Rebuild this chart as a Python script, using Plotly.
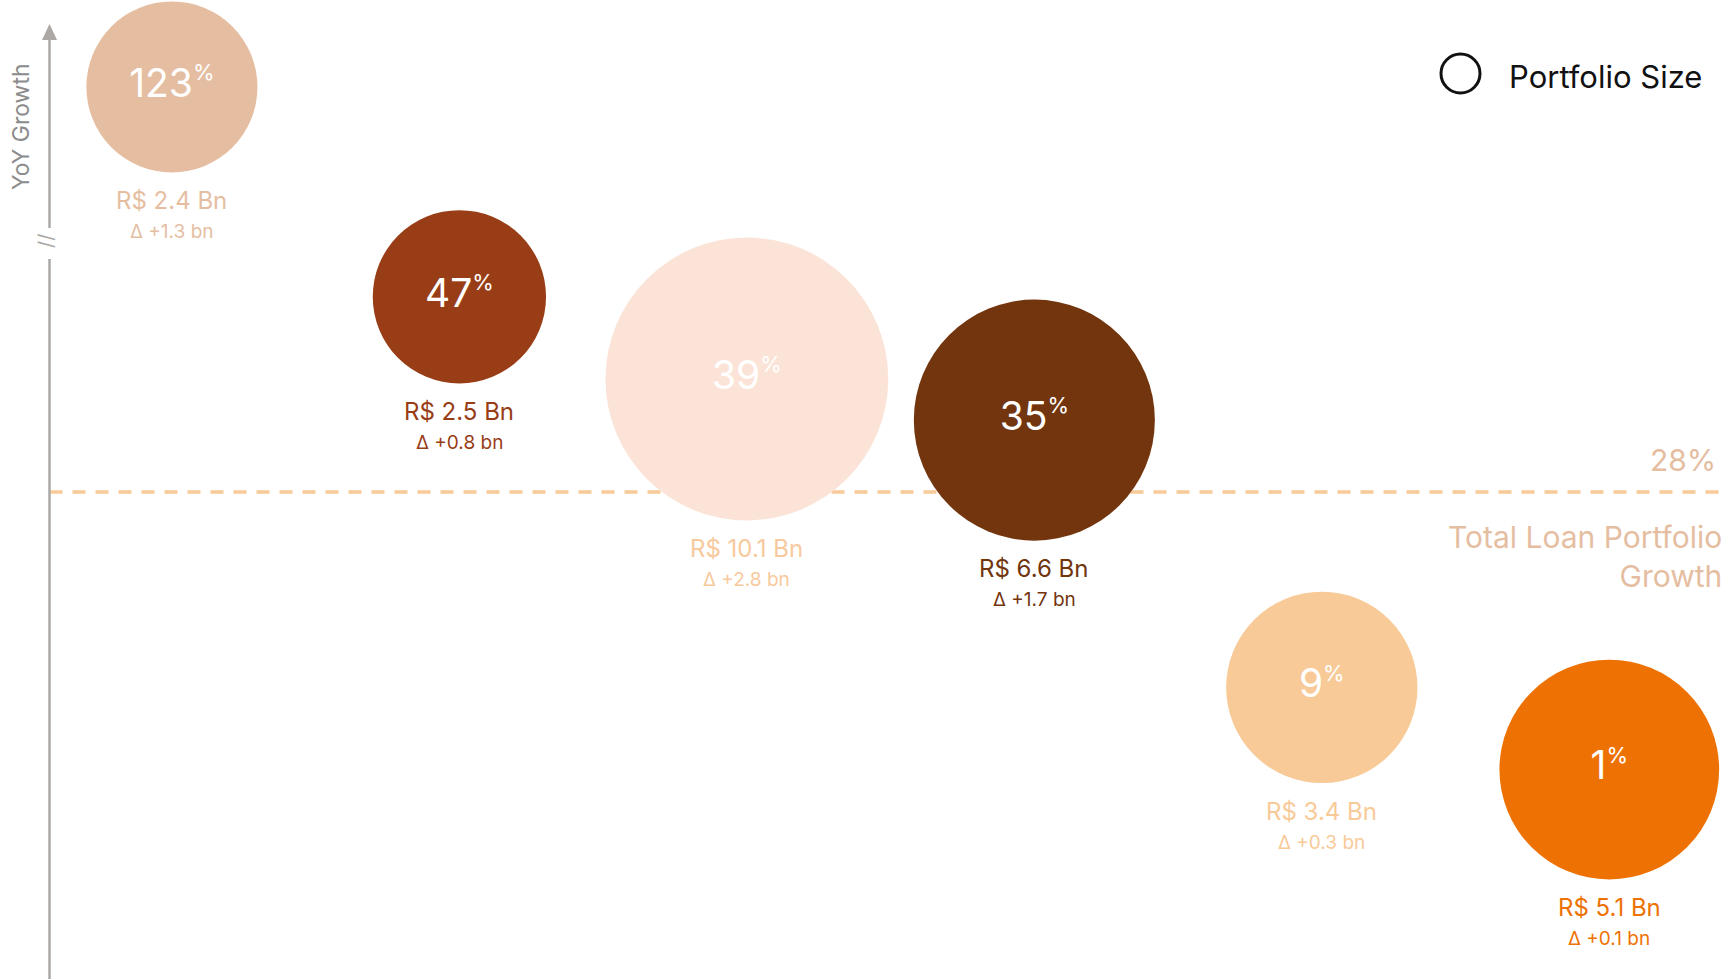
import plotly.graph_objects as go

# ---------------- data ----------------
segments = ["A", "B", "C", "D", "E", "F"]
yoy_growth = [123, 47, 39, 35, 9, 1]            # %
portfolio_bn = [2.4, 2.5, 10.1, 6.6, 3.4, 5.1]  # R$ Bn
delta_bn = [1.3, 0.8, 2.8, 1.7, 0.3, 0.1]       # bn
total_growth = 28                                # %

# ---------------- styles ----------------
bubble_colors = ["#E5BEA2", "#983D16", "#FBE4D7", "#72350E", "#F8CA98", "#EE7203"]
label_colors = ["#E5BEA2", "#983D16", "#F8C99C", "#72350E", "#F8CA98", "#EE7203"]
FONT = "Inter"
AXIS_GREY = "#ABA8A6"
BREAK_AT = 60  # values above go on the upper (broken) axis segment
W, H = 1726, 979


def diameter(v):
    # bubble diameter (px) from portfolio size, sqrt scale
    return 64.8 + 68.6 * v ** 0.5


def px(x, y):
    return x / W, 1 - y / H


fig = go.Figure()

for i, (seg, g, p, d) in enumerate(zip(segments, yoy_growth, portfolio_bn, delta_bn)):
    upper = g > BREAK_AT
    fig.add_trace(go.Scatter(
        x=[i], y=[g],
        yaxis="y2" if upper else "y",
        mode="markers+text",
        marker=dict(size=diameter(p), sizemode="diameter", color=bubble_colors[i],
                    line=dict(width=0), opacity=1),
        text=[f"{g}<sup><span style='font-size:22px'>%</span></sup>"],
        textposition="middle center",
        textfont=dict(family=FONT, size=39, color="white"),
        cliponaxis=False,
        hoverinfo="skip",
        showlegend=False,
    ))
    r = diameter(p) / 2
    yref = "y2" if upper else "y"
    fig.add_annotation(x=i, y=g, xref="x", yref=yref, showarrow=False,
                       text=f"R$ {p} Bn", yshift=-(r + 28), yanchor="middle", xanchor="center",
                       font=dict(family=FONT, size=24, color=label_colors[i]))
    fig.add_annotation(x=i, y=g, xref="x", yref=yref, showarrow=False,
                       text=f"Δ +{d} bn", yshift=-(r + 59), yanchor="middle", xanchor="center",
                       font=dict(family=FONT, size=19, color=label_colors[i]))

# reference line: total loan portfolio growth
ax0, _ = px(49.5, 0)
fig.add_shape(type="line", xref="paper", yref="y", x0=ax0, x1=1, y0=total_growth, y1=total_growth,
              line=dict(color="#F8CA98", width=3.5, dash="13px,10px"), layer="below")
fig.add_annotation(xref="paper", yref="y", x=1718 / W, y=total_growth, yshift=12,
                   xanchor="right", yanchor="bottom", showarrow=False,
                   text=f"{total_growth}%", font=dict(family=FONT, size=30, color="#E5BEA2"))
fig.add_annotation(xref="paper", yref="y", x=1724 / W, y=total_growth, yshift=-25,
                   xanchor="right", yanchor="top", showarrow=False, align="right",
                   text="Total Loan Portfolio<br>Growth",
                   font=dict(family=FONT, size=30, color="#E5BEA2"))

# y-axis with arrow and break
x_ax, y_top = px(49.5, 38)
_, y_brk1 = px(0, 228)
_, y_brk2 = px(0, 259)
fig.add_shape(type="line", xref="paper", yref="paper", x0=x_ax, x1=x_ax, y0=y_top, y1=y_brk1,
              line=dict(color=AXIS_GREY, width=2.5))
fig.add_shape(type="line", xref="paper", yref="paper", x0=x_ax, x1=x_ax, y0=y_brk2, y1=0,
              line=dict(color=AXIS_GREY, width=2.5))
tx, ty = px(49.5, 24)
lx, ly = px(42, 40)
rx, ry = px(57, 40)
fig.add_shape(type="path", xref="paper", yref="paper",
              path=f"M {tx},{ty} L {lx},{ly} L {rx},{ry} Z",
              fillcolor=AXIS_GREY, line=dict(width=0))
bx, by = px(46, 241)
fig.add_annotation(xref="paper", yref="paper", x=bx, y=by, showarrow=False, textangle=-90,
                   text="//", font=dict(family=FONT, size=20, color=AXIS_GREY),
                   xanchor="center", yanchor="middle")
gx, gy = px(21, 127)
fig.add_annotation(xref="paper", yref="paper", x=gx, y=gy, showarrow=False, textangle=-90,
                   text="YoY Growth", font=dict(family=FONT, size=23, color="#8C8C8C"),
                   xanchor="center", yanchor="middle")

# legend
cx0, cy0 = px(1441, 54)
cx1, cy1 = px(1480, 93)
fig.add_shape(type="circle", xref="paper", yref="paper", x0=cx0, x1=cx1, y0=cy1, y1=cy0,
              line=dict(color="#111111", width=3), fillcolor="rgba(0,0,0,0)")
lgx, lgy = px(1507, 76)
fig.add_annotation(xref="paper", yref="paper", x=lgx, y=lgy, showarrow=False,
                   xanchor="left", yanchor="middle", text="Portfolio Size",
                   font=dict(family=FONT, size=31, color="#111111"))

fig.update_layout(
    width=W, height=H,
    margin=dict(l=0, r=0, t=0, b=0),
    paper_bgcolor="white", plot_bgcolor="white",
    xaxis=dict(range=[-0.598, 5.406], visible=False, fixedrange=True),
    yaxis=dict(range=[-19.37, 50.67], domain=[0, 0.7354], visible=False),
    yaxis2=dict(range=[110.4, 130.4], domain=[0.76, 1], visible=False, anchor="x"),
    showlegend=False,
)

fig.write_html("out.html",
               config={"displayModeBar": False},
               post_script="document.body.style.margin='0';document.body.style.overflow='hidden';")
